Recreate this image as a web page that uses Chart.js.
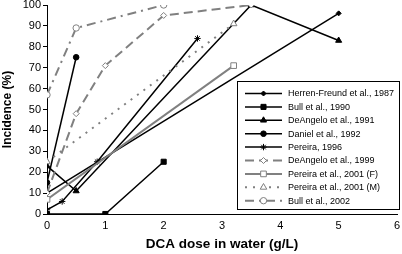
<!DOCTYPE html>
<html>
<head>
<meta charset="utf-8">
<script src="https://cdn.jsdelivr.net/npm/chart.js@4"></script>
<style>
  html, body { margin: 0; padding: 0; background: #fff; }
  #wrap { width: 402px; height: 254px; }
</style>
</head>
<body>
<div id="wrap"><canvas id="chart" width="402" height="254"></canvas></div>
<script>
// Series names (legend order)
const seriesNames = [
  'Herren-Freund et al., 1987',
  'Bull et al., 1990',
  'DeAngelo et al., 1991',
  'Daniel et al., 1992',
  'Pereira, 1996',
  'DeAngelo et al., 1999',
  'Pereira et al., 2001 (F)',
  'Pereira et al., 2001 (M)',
  'Bull et al., 2002'
];

// DCA dose (g/L) and incidence (%) for each study
const herrenDose = [0, 5];
const herrenInc = [10, 96];
const bull90Dose = [0, 1, 2];
const bull90Inc = [0, 0, 25];
const deangelo91Dose = [0, 0.5, 3.5, 5];
const deangelo91Inc = [23, 11, 100, 83];
const danielDose = [0, 0.5];
const danielInc = [15, 75];
const pereira96Dose = [0, 0.26, 0.86, 2.58];
const pereira96Inc = [2, 6, 25, 84];
const deangelo99Dose = [0, 0.5, 1, 2, 3.5];
const deangelo99Inc = [10, 48, 71, 95, 100];
const pereiraFDose = [0, 3.2];
const pereiraFInc = [7, 71];
const pereiraMDose = [0, 3.2];
const pereiraMInc = [25, 91];
const bull02Dose = [0, 0.5, 2];
const bull02Inc = [57, 89, 100];

const xTicks = [0, 1, 2, 3, 4, 5, 6];

const GRAY = '#808080';
const FONT = '"Liberation Sans", Arial, sans-serif';

function pts(xs, ys) {
  return xs.map((x, i) => ({ x: x, y: ys[i] }));
}

function series(idx, xs, ys, opts) {
  return Object.assign({
    label: seriesNames[idx],
    data: pts(xs, ys),
    order: 20 - idx, // later series drawn on top, like the original
    showLine: true,
    fill: false,
    tension: 0,
    borderWidth: 1.5,
    borderColor: '#000',
    backgroundColor: '#000',
    pointBorderColor: '#000',
    pointBackgroundColor: '#000',
    pointBorderWidth: 1,
    pointRadius: 3
  }, opts);
}

const datasets = [
  series(0, herrenDose, herrenInc, { pointStyle: 'rectRot', pointRadius: 2.5 }),
  series(1, bull90Dose, bull90Inc, { pointStyle: 'rect', pointRadius: 3.6 }),
  series(2, deangelo91Dose, deangelo91Inc, { pointStyle: 'triangle', pointRadius: 3.5 }),
  series(3, danielDose, danielInc, { pointStyle: 'circle', pointRadius: 2.8 }),
  series(4, pereira96Dose, pereira96Inc, { pointStyle: 'star', pointRadius: 3.2, pointBorderWidth: 1 }),
  series(5, deangelo99Dose, deangelo99Inc, {
    borderColor: GRAY, borderWidth: 2, borderDash: [9, 5],
    pointStyle: 'rectRot', pointRadius: 3,
    pointBorderColor: GRAY, pointBackgroundColor: '#fff'
  }),
  series(6, pereiraFDose, pereiraFInc, {
    borderColor: GRAY, borderWidth: 2,
    pointStyle: 'rect', pointRadius: 4,
    pointBorderColor: GRAY, pointBackgroundColor: '#fff'
  }),
  series(7, pereiraMDose, pereiraMInc, {
    borderColor: GRAY, borderWidth: 2, borderDash: [2, 6],
    pointStyle: 'triangle', pointRadius: 3.8,
    pointBorderColor: GRAY, pointBackgroundColor: '#fff'
  }),
  series(8, bull02Dose, bull02Inc, {
    borderColor: GRAY, borderWidth: 2, borderDash: [9, 5, 2, 5],
    pointStyle: 'circle', pointRadius: 3.2,
    pointBorderColor: GRAY, pointBackgroundColor: '#fff'
  })
];

// Legend box drawn inside the plot, bottom right
const boxLegend = {
  id: 'boxLegend',
  afterDraw(chart) {
    const ctx = chart.ctx;
    const left = 237.5, top = 81.5, width = 162, height = 128;
    ctx.save();
    ctx.fillStyle = '#fff';
    ctx.fillRect(left, top, width, height);
    ctx.strokeStyle = '#000';
    ctx.lineWidth = 1;
    ctx.strokeRect(left, top, width, height);
    const rowH = 13.4;
    chart.data.datasets.forEach((ds, i) => {
      const y = top + 12 + i * rowH;
      ctx.beginPath();
      ctx.setLineDash(ds.borderDash || []);
      ctx.strokeStyle = ds.borderColor;
      ctx.lineWidth = ds.borderWidth;
      ctx.moveTo(245, y);
      ctx.lineTo(282, y);
      ctx.stroke();
      ctx.setLineDash([]);
      ctx.fillStyle = ds.pointBackgroundColor;
      ctx.strokeStyle = ds.pointBorderColor;
      ctx.lineWidth = ds.pointBorderWidth;
      Chart.helpers.drawPoint(ctx, {
        pointStyle: ds.pointStyle,
        radius: ds.pointRadius,
        rotation: 0,
        borderWidth: ds.pointBorderWidth
      }, 263.5, y);
      ctx.fillStyle = '#000';
      ctx.font = '9px ' + FONT;
      ctx.textBaseline = 'middle';
      ctx.textAlign = 'left';
      ctx.fillText(ds.label, 288, y + 0.5);
    });
    ctx.restore();
  }
};

const ctx = document.getElementById('chart').getContext('2d');
new Chart(ctx, {
  type: 'scatter',
  data: { datasets: datasets },
  plugins: [boxLegend],
  options: {
    responsive: false,
    animation: false,
    layout: { padding: 0 },
    plugins: {
      legend: { display: false },
      tooltip: { enabled: false }
    },
    scales: {
      x: {
        type: 'linear',
        min: 0,
        max: 6,
        afterBuildTicks: (scale) => { scale.ticks = xTicks.map(v => ({ value: v })); },
        afterFit: (scale) => {
          scale.height = 40;
          scale.paddingRight = 2;
        },
        grid: { display: false, drawTicks: false },
        border: { color: '#000', width: 1 },
        ticks: {
          color: '#000',
          padding: 5,
          font: { family: FONT, size: 11 }
        },
        title: {
          display: true,
          text: 'DCA dose in water (g/L)',
          color: '#000',
          padding: { top: 2, bottom: 2 },
          font: { family: FONT, size: 13.5, weight: 'bold' }
        }
      },
      y: {
        type: 'linear',
        min: 0,
        max: 100,
        afterFit: (scale) => {
          scale.width = 47;
          scale.paddingTop = 4.5;
        },
        grid: { drawOnChartArea: false, drawTicks: true, tickLength: 4, color: '#000' },
        border: { color: '#000', width: 1 },
        ticks: {
          stepSize: 10,
          color: '#000',
          padding: 2,
          font: { family: FONT, size: 11 }
        },
        title: {
          display: true,
          text: 'Incidence (%)',
          color: '#000',
          padding: { top: 0, bottom: 2 },
          font: { family: FONT, size: 12, weight: 'bold' }
        }
      }
    }
  }
});
</script>
</body>
</html>
